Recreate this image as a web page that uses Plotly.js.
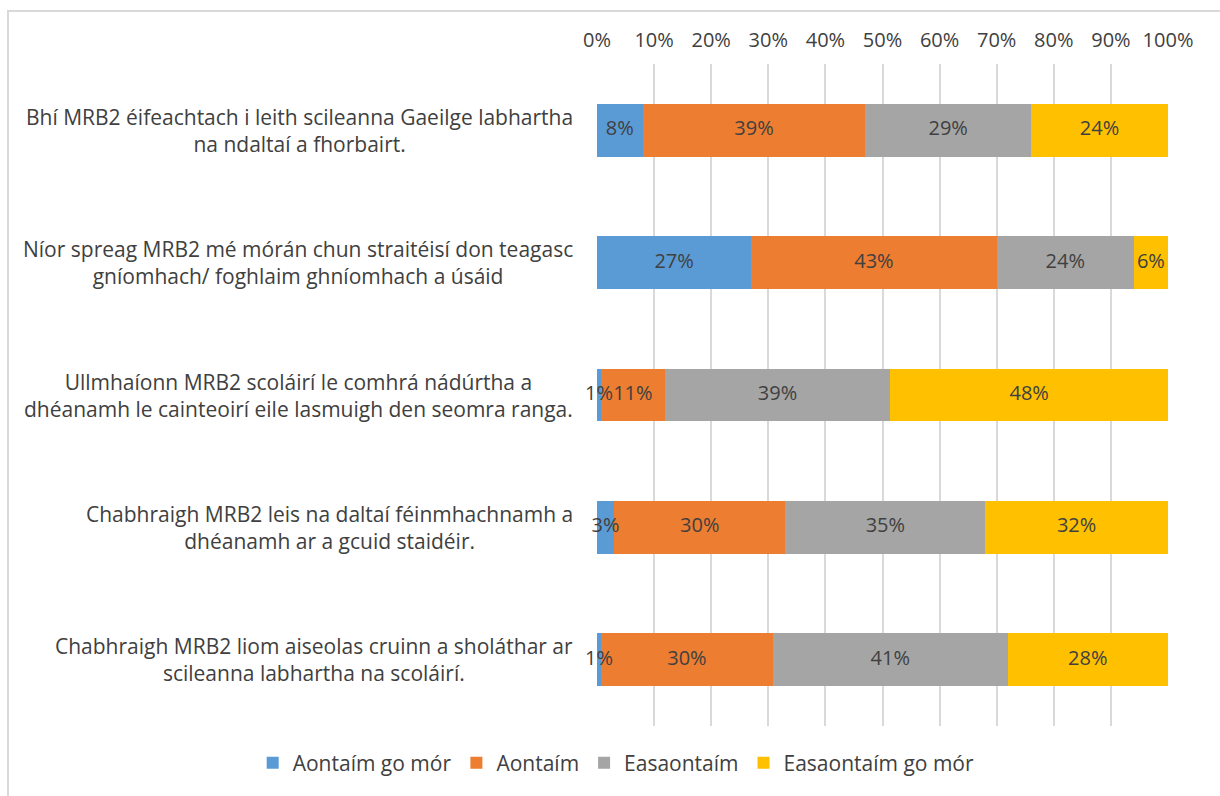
<!DOCTYPE html>
<html>
<head>
<meta charset="utf-8">
<script src="https://cdn.plot.ly/plotly-3.0.1.min.js"></script>
<style>
  html, body { margin:0; padding:0; background:#fff; }
  #wrap { position:relative; width:1220px; height:796px; overflow:hidden; }
  #frame { position:absolute; left:7px; top:10px; width:1240px; height:820px; border:2px solid #d9d9d9; box-sizing:border-box; pointer-events:none; }
  #chart { position:absolute; left:0; top:0; width:1220px; height:796px; }
</style>
</head>
<body>
<div id="wrap">
  <div id="chart"></div>
  <div id="frame"></div>
</div>
<script>
const categories = [
  "Bhí MRB2 éifeachtach i leith scileanna Gaeilge labhartha<br>na ndaltaí a fhorbairt.",
  "Níor spreag MRB2 mé mórán chun straitéisí don teagasc<br>gníomhach/ foghlaim ghníomhach a úsáid",
  "Ullmhaíonn MRB2 scoláirí le comhrá nádúrtha a<br>dhéanamh le cainteoirí eile lasmuigh den seomra ranga.",
  "Chabhraigh MRB2 leis na daltaí féinmhachnamh a<br>dhéanamh ar a gcuid staidéir.",
  "Chabhraigh MRB2 liom aiseolas cruinn a sholáthar ar<br>scileanna labhartha na scoláirí."
];
const seriesNames = ["Aontaím go mór", "Aontaím", "Easaontaím", "Easaontaím go mór"];
const aontaimGoMor = [8, 27, 0.7, 3, 0.7];
const aontaim = [39, 43, 11, 30, 30];
const easaontaim = [29, 24, 39, 35, 41];
const easaontaimGoMor = [24, 6, 48, 32, 28];
const tickVals = [0, 10, 20, 30, 40, 50, 60, 70, 80, 90, 100];
const tickText = tickVals.map(v => v + "%");

const colors = ["#5B9BD5", "#ED7D31", "#A5A5A5", "#FFC000"];
const allSeries = [aontaimGoMor, aontaim, easaontaim, easaontaimGoMor];
const ids = categories.map((c, i) => "c" + i);

const FONT = "'Open Sans', Lato, sans-serif";
const TXT = "#404040";
const FS = 21;

const barTraces = allSeries.map((vals, s) => ({
  type: "bar",
  orientation: "h",
  name: seriesNames[s],
  y: ids,
  x: vals,
  marker: { color: colors[s], line: { width: 0 } },
  hoverinfo: "name+x"
}));

// totals per category, for label placement at segment centres (bars use barnorm: 'percent')
const totals = ids.map((_, i) => allSeries.reduce((a, ser) => a + ser[i], 0));
const labelTraces = allSeries.map((vals, s) => ({
  type: "scatter",
  mode: "text",
  showlegend: false,
  hoverinfo: "skip",
  y: ids,
  x: vals.map((v, i) => {
    let before = 0;
    for (let k = 0; k < s; k++) before += allSeries[k][i];
    return (before + v / 2) / totals[i] * 100;
  }),
  text: vals.map(v => Math.round(v) + "%"),
  textposition: "middle center",
  textfont: { family: FONT, size: FS - 1, color: TXT },
  cliponaxis: false
}));

const annotations = categories.map((c, i) => ({
  xref: "paper", yref: "y",
  x: 0, y: ids[i],
  xanchor: "right", yanchor: "middle",
  xshift: -22,
  text: c,
  align: "center",
  showarrow: false,
  font: { family: FONT, size: FS, color: TXT }
}));

const layout = {
  width: 1220, height: 796,
  margin: { l: 597, r: 52, t: 64, b: 70 },
  paper_bgcolor: "#fff", plot_bgcolor: "#fff",
  barmode: "stack",
  barnorm: "percent",
  bargap: 0.6,
  xaxis: {
    side: "top",
    range: [0, 100],
    tickvals: tickVals,
    ticktext: tickText,
    showgrid: true,
    gridcolor: "#d9d9d9",
    gridwidth: 2,
    zeroline: false,
    showline: false,
    ticks: "",
    ticklen: 0,
    ticklabelstandoff: 12,
    tickfont: { family: FONT, size: FS - 1, color: TXT },
    fixedrange: true
  },
  yaxis: {
    autorange: "reversed",
    showticklabels: false,
    showgrid: false,
    zeroline: false,
    showline: false,
    ticks: "",
    fixedrange: true
  },
  showlegend: true,
  legend: {
    orientation: "h",
    xref: "paper", yref: "paper",
    x: -0.603, xanchor: "left",
    y: -0.056, yanchor: "middle",
    font: { family: FONT, size: FS, color: TXT },
    traceorder: "normal",
    itemwidth: 30,
    bgcolor: "rgba(0,0,0,0)"
  },
  annotations: annotations
};

Plotly.newPlot("chart", barTraces.concat(labelTraces), layout, { displayModeBar: false, staticPlot: true });
</script>
</body>
</html>
